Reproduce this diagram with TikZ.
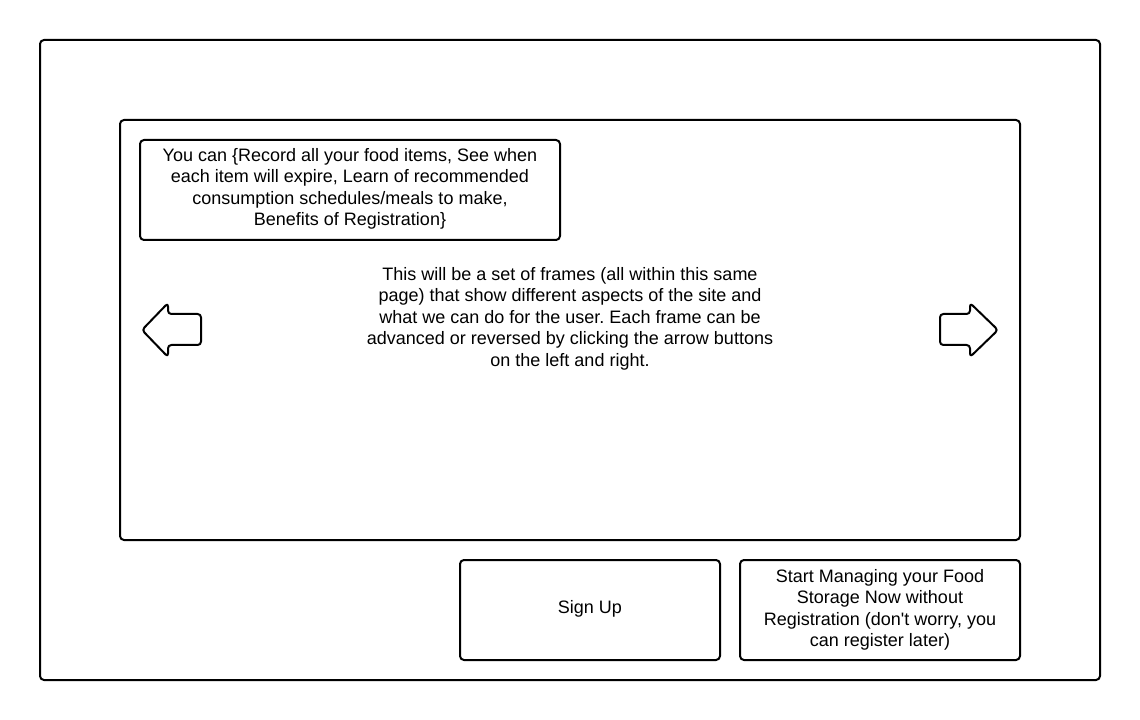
\documentclass[tikz,border=0pt]{standalone}
\usepackage{fontspec}
\setmainfont{Liberation Sans}
\usetikzlibrary{positioning}
\frenchspacing

\begin{document}
\begin{tikzpicture}[x=0.75pt, y=-0.75pt,
    frame/.style={draw, line width=1.5pt, rounded corners=3pt, inner sep=0pt},
    label/.style={align=center, font=\fontsize{13.5pt}{16.1pt}\selectfont, inner sep=0pt},
    navbtn/.style={draw, line width=1.5pt, rounded corners=2.5pt, line join=round}]
    \useasboundingbox (0,0) rectangle (1140,720);
    % page and slide frame
    \node[frame, minimum width=795pt, minimum height=480pt] (page) at (570,360) {};
    \node[frame, minimum width=675pt, minimum height=315pt] (slides) at (570,330) {};
    \node[frame, minimum width=315pt, minimum height=75pt] (benefits) at (350,190) {};
    \node[label] at (350,189) {You can \{Record all your food items, See when\\each item will expire, Learn of recommended\\consumption schedules/meals to make,\\Benefits of Registration\}};
    \node[label] (about) at (570,318.5) {This will be a set of frames (all within this same\\page) that show different aspects of the site and\\what we can do for the user. Each frame can be\\advanced or reversed by clicking the arrow buttons\\on the left and right.};
    % arrow buttons
    \draw[navbtn] (142,330) -- (168,303) -- (168,314) -- (201,314) -- (201,345) -- (168,345) -- (168,357) -- cycle;
    \draw[navbtn] (998,330) -- (970,303) -- (970,314) -- (940,314) -- (940,345) -- (970,345) -- (970,357) -- cycle;
    % buttons
    \node[frame, minimum width=195pt, minimum height=75pt] (signup) at (590,610) {};
    \node[label] at (590,609) {Sign Up};
    \node[frame, minimum width=210pt, minimum height=75pt] (guest) at (880,610) {};
    \node[label] at (880,610) {Start Managing your Food\\Storage Now without\\Registration (don\textquotesingle t worry, you\\can register later)};
\end{tikzpicture}
\end{document}
